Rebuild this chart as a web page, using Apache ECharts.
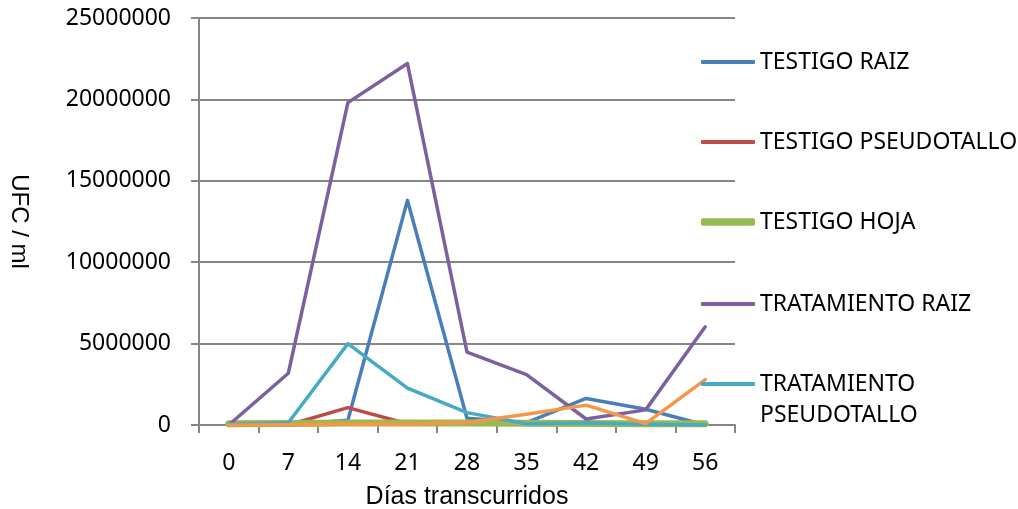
<!DOCTYPE html>
<html>
<head>
<meta charset="utf-8">
<script src="https://cdn.jsdelivr.net/npm/echarts@6/dist/echarts.min.js"></script>
<style>
  html, body { margin: 0; padding: 0; background: #fff; }
  #chart { width: 1018px; height: 509px; }
</style>
</head>
<body>
<div id="chart"></div>
<script>
var dias = ['0', '7', '14', '21', '28', '35', '42', '49', '56'];
var yTicks = [0, 5000000, 10000000, 15000000, 20000000, 25000000];

var testigoRaiz = [0, 20000, 290000, 13800000, 410000, 140000, 1630000, 970000, 0];
var testigoPseudotallo = [0, 0, 1070000, 80000, 80000, 60000, 50000, 40000, 30000];
var testigoHoja = [80000, 90000, 120000, 130000, 120000, 100000, 90000, 80000, 70000];
var tratamientoRaiz = [0, 3180000, 19800000, 22200000, 4480000, 3100000, 370000, 930000, 6030000];
var tratamientoPseudotallo = [50000, 140000, 5000000, 2270000, 760000, 80000, 120000, 50000, 0];
var tratamientoHoja = [0, 20000, 50000, 50000, 150000, 660000, 1220000, 80000, 2790000];

var names = ['TESTIGO RAIZ', 'TESTIGO PSEUDOTALLO', 'TESTIGO HOJA', 'TRATAMIENTO RAIZ', 'TRATAMIENTO PSEUDOTALLO', 'TRATAMIENTO HOJA'];
var colors = ['#4A7EBB', '#BE4B48', '#98B954', '#7D60A0', '#46AAC5', '#F79646'];
var values = [testigoRaiz, testigoPseudotallo, testigoHoja, tratamientoRaiz, tratamientoPseudotallo, tratamientoHoja];
var widths = [3.5, 3.5, 7, 3.5, 3.5, 3.5];

var gray = '#868686';
var labelFont = 'Noto Sans';
var titleFont = 'Liberation Sans';

// one legend per entry so the gaps match the original
var legendCenters = [62, 142, 222, 304, 384];
var legends = legendCenters.map(function(cy, i) {
    var last = i === 4;
    var boxH = last ? 93 : 31;
    return {
        data: [names[i]],
        left: 701,
        top: cy - boxH / 2,
        orient: 'vertical',
        icon: 'roundRect',
        itemWidth: 54,
        itemHeight: widths[i] + 0.5,
        padding: 0,
        selectedMode: false,
        formatter: last ? '\nTRATAMIENTO\nPSEUDOTALLO' : '{name}',
        textStyle: {
            fontFamily: labelFont,
            fontSize: 23,
            color: '#000',
            lineHeight: 31
        }
    };
});

var series = names.map(function(name, i) {
    return {
        name: name,
        type: 'line',
        data: values[i],
        symbol: 'none',
        color: colors[i],
        itemStyle: { color: colors[i] },
        lineStyle: { width: widths[i], color: colors[i], cap: 'round', join: 'round' },
        animation: false
    };
});

var chart = echarts.init(document.getElementById('chart'));
chart.setOption({
    backgroundColor: '#fff',
    grid: { left: 199, right: 283, top: 18, bottom: 84, containLabel: false, outerBoundsMode: 'none' },
    legend: legends,
    xAxis: {
        type: 'category',
        data: dias,
        boundaryGap: true,
        name: 'Días transcurridos',
        nameLocation: 'middle',
        nameGap: 60,
        nameTextStyle: { fontFamily: titleFont, fontSize: 25, color: '#000' },
        axisLine: { lineStyle: { color: gray, width: 2 } },
        axisTick: { show: true, length: 8, lineStyle: { color: gray, width: 2 } },
        axisLabel: { fontFamily: labelFont, fontSize: 23, color: '#000', margin: 27 }
    },
    yAxis: {
        type: 'value',
        min: yTicks[0],
        max: yTicks[yTicks.length - 1],
        interval: yTicks[1] - yTicks[0],
        name: 'UFC / ml',
        nameLocation: 'middle',
        nameGap: 168,
        nameRotate: -90,
        nameTextStyle: { fontFamily: titleFont, fontSize: 24, color: '#000' },
        axisLine: { show: true, lineStyle: { color: gray, width: 2 } },
        axisTick: { show: true, length: 8, lineStyle: { color: gray, width: 2 } },
        axisLabel: {
            fontFamily: labelFont, fontSize: 23, color: '#000', margin: 28,
            formatter: function(v) { return String(v); }
        },
        splitLine: { lineStyle: { color: gray, width: 2 } }
    },
    series: series
});
</script>
</body>
</html>
